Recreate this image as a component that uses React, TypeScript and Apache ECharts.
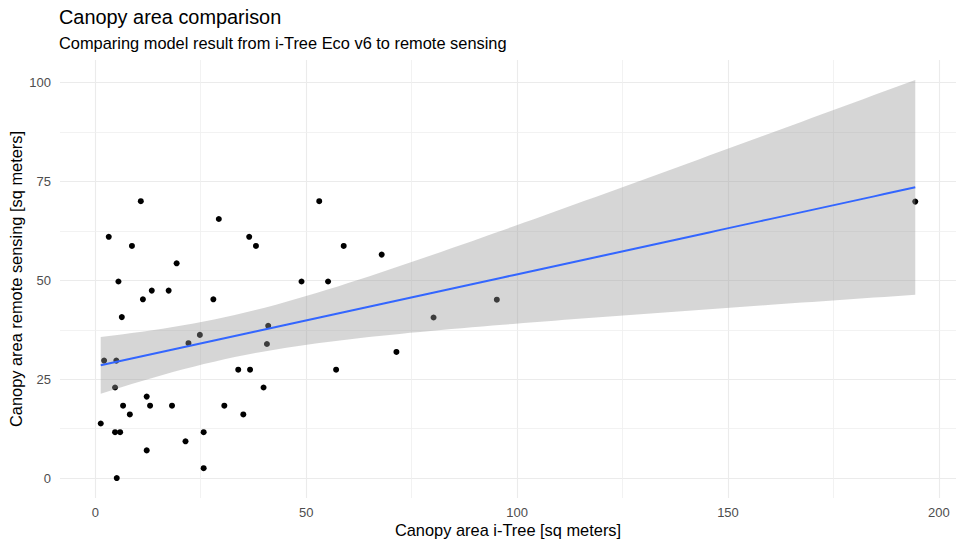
import React, { useEffect, useRef } from "react";
import * as echarts from "echarts";

const TITLE = "Canopy area comparison";
const SUBTITLE = "Comparing model result from i-Tree Eco v6 to remote sensing";
const X_TITLE = "Canopy area i-Tree [sq meters]";
const Y_TITLE = "Canopy area remote sensing [sq meters]";

// canopy area from i-Tree Eco v6 model [sq meters]
const itreeArea = [
  10.8, 29.3, 3.2, 8.7, 36.5, 38.1, 19.3, 5.5, 13.4, 17.4,
  11.3, 28.0, 6.3, 24.8, 22.1, 2.1, 5.0, 33.9, 36.7, 4.7,
  12.2, 6.6, 13.0, 18.2, 30.6, 8.2, 35.1, 1.3, 4.7, 5.9,
  25.7, 21.4, 12.2, 25.7, 5.1, 41.0, 40.7, 57.1, 71.4, 39.9,
  53.1, 58.9, 67.9, 48.9, 55.2, 80.2, 95.2, 194.4,
];
// canopy area from remote sensing [sq meters]
const remoteArea = [
  70.0, 65.5, 61.0, 58.7, 61.0, 58.7, 54.3, 49.7, 47.4, 47.4,
  45.2, 45.2, 40.7, 36.2, 34.1, 29.7, 29.7, 27.4, 27.4, 22.9,
  20.6, 18.3, 18.3, 18.3, 18.3, 16.1, 16.1, 13.8, 11.6, 11.6,
  11.6, 9.3, 7.0, 2.5, 0.0, 38.5, 33.9, 27.4, 31.9, 22.9,
  70.0, 58.7, 56.5, 49.7, 49.7, 40.6, 45.1, 69.9,
];

const xMajorTicks = [0, 50, 100, 150, 200];
const yMajorTicks = [0, 25, 50, 75, 100];
const xMinorTicks = [25, 75, 125, 175];
const yMinorTicks = [12.5, 37.5, 62.5, 87.5];

const T_QUANTILE = 2.0129; // qt(0.975, df = 46)
const SMOOTH_N = 80;

function fitLm(xs: number[], ys: number[]) {
  const n = xs.length;
  const mx = xs.reduce((a, b) => a + b, 0) / n;
  const my = ys.reduce((a, b) => a + b, 0) / n;
  let sxx = 0;
  let sxy = 0;
  for (let i = 0; i < n; i++) {
    sxx += (xs[i] - mx) * (xs[i] - mx);
    sxy += (xs[i] - mx) * (ys[i] - my);
  }
  const b = sxy / sxx;
  const a = my - b * mx;
  let sse = 0;
  for (let i = 0; i < n; i++) {
    const r = ys[i] - a - b * xs[i];
    sse += r * r;
  }
  const s = Math.sqrt(sse / (n - 2));
  const lo = Math.min(...xs);
  const hi = Math.max(...xs);
  const out: { x: number; fit: number; lower: number; upper: number }[] = [];
  for (let k = 0; k < SMOOTH_N; k++) {
    const x = lo + ((hi - lo) * k) / (SMOOTH_N - 1);
    const fit = a + b * x;
    const se = s * Math.sqrt(1 / n + ((x - mx) * (x - mx)) / sxx);
    out.push({ x, fit, lower: fit - T_QUANTILE * se, upper: fit + T_QUANTILE * se });
  }
  return out;
}

const FONT = "'Liberation Sans', Arial, sans-serif";

export default function App() {
  const ref = useRef<HTMLDivElement>(null);
  useEffect(() => {
    if (!ref.current) return;
    const chart = echarts.init(ref.current, undefined, { renderer: "svg" });
    const smooth = fitLm(itreeArea, remoteArea);

    const xDataMin = Math.min(...itreeArea);
    const xDataMax = Math.max(...itreeArea);
    const yDataMin = Math.min(...remoteArea, ...smooth.map((d) => d.lower));
    const yDataMax = Math.max(...remoteArea, ...smooth.map((d) => d.upper));
    const xPad = (xDataMax - xDataMin) * 0.05;
    const yPad = (yDataMax - yDataMin) * 0.05;

    const points = itreeArea.map((x, i) => [x, remoteArea[i]]);
    const upperPts = smooth.map((d) => [d.x, d.upper]);
    const lowerPts = smooth.map((d) => [d.x, d.lower]);

    const majorLine = { show: true, showMinLine: false, showMaxLine: false, lineStyle: { color: "#EBEBEB", width: 1.1 } };

    chart.setOption({
      animation: false,
      backgroundColor: "#FFFFFF",
      title: [
        { text: TITLE, left: 59, top: 7, padding: 0, textStyle: { fontFamily: FONT, fontSize: 19.9, fontWeight: "normal", color: "#000000" } },
        { text: SUBTITLE, left: 59, top: 35, padding: 0, textStyle: { fontFamily: FONT, fontSize: 16.4, fontWeight: "normal", color: "#000000" } },
      ],
      grid: { left: 60, right: 5, top: 60, bottom: 45, containLabel: false, outerBoundsMode: "none" },
      xAxis: {
        type: "value",
        min: xDataMin - xPad,
        max: xDataMax + xPad,
        minInterval: xMajorTicks[1] - xMajorTicks[0],
        maxInterval: xMajorTicks[1] - xMajorTicks[0],
        name: X_TITLE,
        nameLocation: "middle",
        nameGap: 24,
        nameMoveOverlap: false,
        nameTextStyle: { fontFamily: FONT, fontSize: 16.4, color: "#000000" },
        axisLine: { show: false },
        axisTick: { show: false },
        axisLabel: { showMinLabel: false, showMaxLabel: false, margin: 8, fontFamily: FONT, fontSize: 13, color: "#4D4D4D" },
        splitLine: majorLine,
      },
      yAxis: {
        type: "value",
        min: yDataMin - yPad,
        max: yDataMax + yPad,
        minInterval: yMajorTicks[1] - yMajorTicks[0],
        maxInterval: yMajorTicks[1] - yMajorTicks[0],
        name: Y_TITLE,
        nameLocation: "middle",
        nameRotate: 90,
        nameGap: 36,
        nameMoveOverlap: false,
        nameTextStyle: { fontFamily: FONT, fontSize: 16.4, color: "#000000" },
        axisLine: { show: false },
        axisTick: { show: false },
        axisLabel: { showMinLabel: false, showMaxLabel: false, margin: 9, fontFamily: FONT, fontSize: 13, color: "#4D4D4D" },
        splitLine: majorLine,
      },
      series: [
        {
          type: "scatter",
          data: points,
          symbol: "circle",
          symbolSize: 6,
          itemStyle: { color: "#000000", opacity: 1 },
          z: 2,
          silent: true,
          markLine: {
            silent: true,
            z: 1,
            symbol: ["none", "none"],
            label: { show: false },
            emphasis: { disabled: true },
            lineStyle: { color: "#EFEFEF", width: 0.8, type: "solid" },
            data: [
              ...xMinorTicks.map((v) => ({ xAxis: v })),
              ...yMinorTicks.map((v) => ({ yAxis: v })),
            ],
          },
        },
        {
          type: "custom",
          data: [[smooth[0].x, smooth[0].fit]],
          z: 3,
          silent: true,
          renderItem: (_params: any, api: any) => {
            const poly = [
              ...upperPts.map((p) => api.coord(p)),
              ...lowerPts.slice().reverse().map((p) => api.coord(p)),
            ];
            return {
              type: "polygon",
              shape: { points: poly },
              style: { fill: "rgba(153,153,153,0.4)", stroke: "none" },
            };
          },
        },
        {
          type: "line",
          data: smooth.map((d) => [d.x, d.fit]),
          showSymbol: false,
          symbol: "none",
          lineStyle: { color: "#3366FF", width: 2 },
          z: 4,
          silent: true,
        },
      ],
    });
    return () => chart.dispose();
  }, []);
  return (
    <div
      ref={ref}
      style={{ position: "absolute", left: 0, top: 0, width: 961, height: 543, background: "#FFFFFF" }}
    />
  );
}
